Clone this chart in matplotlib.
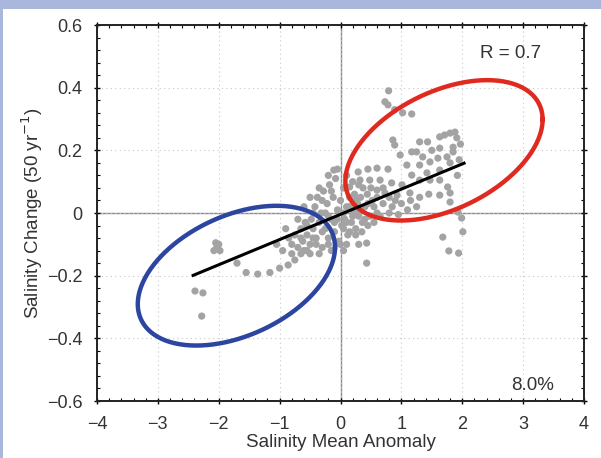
import numpy as np
import matplotlib
matplotlib.use("Agg")
import matplotlib.pyplot as plt
from matplotlib.patches import Rectangle
from matplotlib.ticker import MultipleLocator

plt.rcParams['font.family'] = ['Liberation Sans', 'DejaVu Sans']

# tick values / labels
xticks = [-4, -3, -2, -1, 0, 1, 2, 3, 4]
xtick_labels = ['\u22124', '\u22123', '\u22122', '\u22121', '0', '1', '2', '3', '4']
yticks = [-0.6, -0.4, -0.2, 0, 0.2, 0.4, 0.6]
ytick_labels = ['\u22120.6', '\u22120.4', '\u22120.2', '0', '0.2', '0.4', '0.6']

# scatter points (mean anomaly, change)
pts_upper = [(0.79, 0.39), (0.73, 0.355), (0.78, 0.345), (0.89, 0.33), (1.02, 0.32), (1.17, 0.316),
             (0.86, 0.233), (0.89, 0.217), (1.30, 0.227), (1.43, 0.227), (1.63, 0.243), (1.71, 0.249),
             (1.80, 0.255), (1.88, 0.258), (1.91, 0.24), (1.85, 0.21), (1.63, 0.207), (1.50, 0.20),
             (0.98, 0.185), (1.17, 0.195), (1.25, 0.195), (1.35, 0.179), (1.47, 0.163), (1.60, 0.175),
             (1.75, 0.179), (1.85, 0.195), (1.09, 0.153), (1.30, 0.153), (0.60, 0.143), (0.45, 0.14),
             (0.78, 0.14), (0.29, 0.131), (-0.11, 0.137), (1.17, 0.121), (1.42, 0.128), (1.63, 0.137),
             (1.80, 0.16), (0.32, 0.105), (0.48, 0.105), (0.65, 0.105), (0.84, 0.096), (1.01, 0.09),
             (1.30, 0.105), (1.47, 0.105), (1.63, 0.105), (1.76, 0.083), (0.15, 0.083), (0.37, 0.08),
             (0.60, 0.073), (0.73, 0.064), (0.93, 0.057), (1.14, 0.064), (1.63, 0.057), (1.80, 0.064),
             (1.92, 0.12), (1.95, 0.17), (1.97, 0.22)]
pts_right_low = [(1.80, 0.035), (1.93, 0.003), (1.99, -0.016), (2.01, -0.06), (1.68, -0.077),
                 (1.78, -0.121), (1.94, -0.128), (0.43, -0.096), (0.43, -0.16),
                 (0.55, 0.02), (0.70, 0.03), (0.85, 0.02), (1.00, 0.03), (1.15, 0.04), (1.30, 0.05),
                 (1.45, 0.06), (0.65, -0.01), (0.80, 0.0), (0.95, -0.005), (1.10, 0.01), (1.25, 0.02)]
pts_left = [(-2.03, -0.109), (-2.08, -0.12), (-1.98, -0.12), (-2.05, -0.095), (-2.00, -0.10),
            (-1.70, -0.16), (-1.55, -0.19), (-1.36, -0.195), (-1.16, -0.19), (-1.00, -0.176),
            (-0.86, -0.166), (-2.39, -0.249), (-2.26, -0.255), (-2.28, -0.329),
            (-0.75, -0.15), (-0.65, -0.13), (-0.55, -0.12)]
pts_center = [(-0.85, -0.08), (-0.80, -0.10), (-0.75, -0.07), (-0.70, -0.11), (-0.65, -0.05),
              (-0.62, -0.09), (-0.58, -0.03), (-0.55, -0.07), (-0.50, -0.10), (-0.48, -0.02),
              (-0.45, -0.05), (-0.42, 0.02), (-0.40, -0.08), (-0.38, 0.05), (-0.35, -0.03),
              (-0.32, 0.0), (-0.30, -0.11), (-0.28, 0.07), (-0.25, -0.05), (-0.22, 0.03),
              (-0.20, -0.08), (-0.18, 0.09), (-0.15, -0.02), (-0.12, 0.05), (-0.10, -0.06),
              (-0.08, 0.11), (-0.05, 0.01), (-0.03, -0.09), (0.0, 0.04), (0.02, -0.04),
              (0.05, 0.08), (0.07, -0.02), (0.10, 0.02), (0.12, -0.07), (0.15, 0.05),
              (0.18, -0.03), (0.20, 0.01), (0.23, 0.06), (0.25, -0.05), (0.28, 0.03),
              (0.30, -0.01), (0.33, 0.05), (0.36, -0.03), (0.40, 0.02), (0.44, 0.06),
              (0.48, -0.01), (0.52, 0.04), (-0.95, -0.12), (-0.90, -0.05), (-1.05, -0.10),
              (-0.60, 0.02), (-0.50, 0.05), (-0.70, -0.02), (0.0, -0.10), (-0.15, -0.12),
              (0.10, -0.10), (0.20, 0.10), (0.10, 0.12), (-0.05, 0.14), (-0.20, 0.12),
              (0.30, 0.09), (-0.35, 0.08),
              (0.05, -0.05), (0.15, -0.06), (0.25, -0.07), (0.35, -0.06), (0.45, -0.04),
              (0.55, -0.03), (0.60, 0.0), (0.40, -0.02), (0.30, 0.0), (0.20, -0.01),
              (0.10, -0.03), (-0.10, -0.03), (-0.20, -0.01), (-0.30, -0.06), (-0.40, -0.10),
              (-0.50, -0.13), (-0.60, -0.12), (-0.45, 0.0), (-0.25, 0.0), (-0.05, -0.02),
              (0.05, 0.0), (0.15, 0.02), (0.25, 0.04), (0.35, 0.01), (0.45, 0.03),
              (0.50, 0.08), (0.60, 0.05), (0.70, 0.08), (0.80, 0.05), (0.90, 0.04),
              (-0.15, 0.07), (-0.30, 0.04), (-0.45, -0.08), (-0.55, -0.04), (-0.65, -0.08),
              (-0.80, -0.13), (-0.35, -0.13), (-0.20, -0.10), (0.05, -0.12), (0.30, -0.10)]

# regression line end points
fit_x = [-2.42, 2.03]
fit_y = [-0.199, 0.159]

# ellipses: centre, half extents, phase (deg)
blue_ell = (-1.71, -0.20, 1.62, 0.223, 66)
red_ell = (1.70, 0.20, 1.62, 0.224, 64)

fig = plt.figure(figsize=(6.01, 4.58), dpi=100)
fig.patch.set_facecolor('#a9b7dc')
bg = Rectangle((3 / 601, 0), 1, 1 - 9 / 458, transform=fig.transFigure,
               facecolor='white', edgecolor='none', zorder=-10)
fig.patches.append(bg)
ax = fig.add_axes([97 / 601, 1 - 401 / 458, 487 / 601, 376 / 458])
ax.set_zorder(1)

ax.set_xlim(-4, 4)
ax.set_ylim(-0.6, 0.6)
ax.grid(True, linestyle=(0, (1, 3)), color='#c8c8c8', linewidth=0.8)
ax.axhline(0, color='#8c8c8c', lw=1, zorder=1)
ax.axvline(0, color='#8c8c8c', lw=1, zorder=1)

allpts = np.array(pts_upper + pts_right_low + pts_left + pts_center)
ax.scatter(allpts[:, 0], allpts[:, 1], s=27, color='#a3a3a3', edgecolors='none', zorder=2)

t = np.linspace(0, 2 * np.pi, 300)
for (cx, cy, rx, ry, ph), col in [(blue_ell, '#2c45a0'), (red_ell, '#e02a20')]:
    ax.plot(cx + rx * np.cos(t), cy + ry * np.cos(t - np.radians(ph)), color=col, lw=3.2, zorder=3)

ax.plot(fit_x, fit_y, color='black', lw=2.2, zorder=4)

ax.text(2.8, 0.51, 'R = 0.7', fontsize=13.5, color='#333333', ha='center', va='center')
ax.text(3.16, -0.55, '8.0%', fontsize=13.5, color='#333333', ha='center', va='center')

ax.set_xticks(xticks)
ax.set_xticklabels(xtick_labels)
ax.set_yticks(yticks)
ax.set_yticklabels(ytick_labels)
ax.xaxis.set_minor_locator(MultipleLocator(0.2))
ax.yaxis.set_minor_locator(MultipleLocator(0.04))
ax.tick_params(which='major', direction='inout', length=5, width=1, top=True, right=True,
               labelsize=13, labelcolor='#333333')
ax.tick_params(axis='x', which='major', pad=8)
ax.tick_params(axis='y', which='major', pad=8)
ax.tick_params(which='minor', direction='in', length=2, width=0.8, top=True, right=True)
for sp in ax.spines.values():
    sp.set_linewidth(1.4)
    sp.set_color('#222222')

ax.set_xlabel('Salinity Mean Anomaly', fontsize=13.5, color='#333333', labelpad=1)
ax.set_ylabel('Salinity Change (50 yr$^{-1}$)', fontsize=13.5, color='#333333', labelpad=1)

fig.savefig('out.png', dpi=100)
